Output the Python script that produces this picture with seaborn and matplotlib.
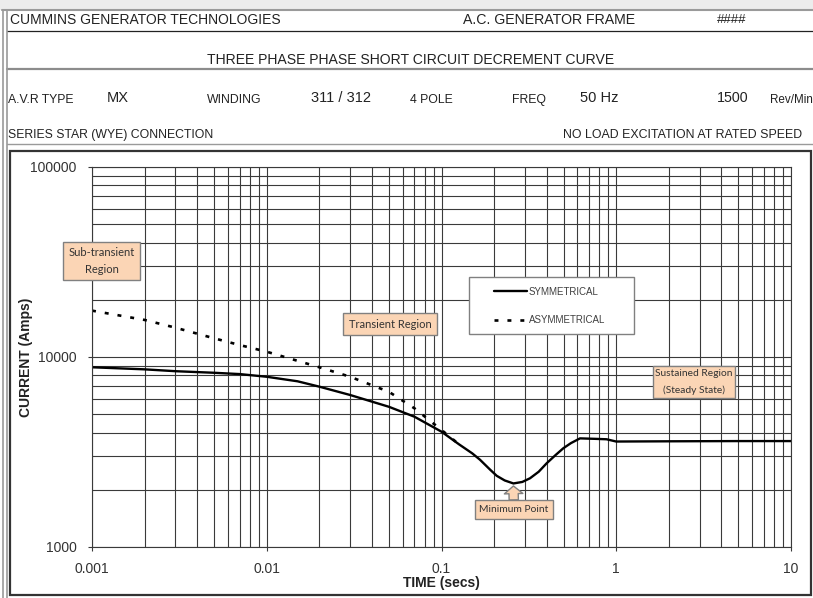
import numpy as np
import pandas as pd
import seaborn as sns
import matplotlib.pyplot as plt
from matplotlib.lines import Line2D
from matplotlib.patches import Rectangle
from matplotlib.ticker import LogLocator, FixedLocator, NullFormatter

# datos (tiempo en s, corriente en A)
sym_time = [0.001, 0.002, 0.003, 0.005, 0.007, 0.01, 0.015, 0.02, 0.03, 0.05, 0.07, 0.1,
            0.126, 0.15, 0.166, 0.19, 0.207, 0.23, 0.258, 0.29, 0.321, 0.36, 0.40, 0.45,
            0.498, 0.55, 0.62, 0.75, 0.88, 1.0, 2.0, 5.0, 10.0]
sym_current = [8830, 8610, 8420, 8260, 8130, 7870, 7450, 6980, 6310, 5470, 4850, 4045,
               3470, 3110, 2880, 2550, 2370, 2240, 2160, 2200, 2300, 2490, 2760, 3050,
               3310, 3520, 3730, 3710, 3690, 3590, 3600, 3610, 3610]

asym_time = [0.001, 0.002, 0.003, 0.005, 0.007, 0.01, 0.02, 0.03, 0.05, 0.07, 0.1, 0.126]
asym_current = [17540, 15670, 14270, 12540, 11560, 10660, 8830, 7870, 6560, 5370, 4130, 3470]

x_ticks = [0.001, 0.01, 0.1, 1, 10]
x_labels = ['0.001', '0.01', '0.1', '1', '10']
y_ticks = [1000, 10000, 100000]
y_labels = ['1000', '10000', '100000']

df_sym = pd.DataFrame({'t': sym_time, 'I': sym_current})
df_asym = pd.DataFrame({'t': asym_time, 'I': asym_current})

sns.set_style("white")
plt.rcParams['font.family'] = ['Liberation Sans', 'DejaVu Sans']

W, H = 813, 598
fig = plt.figure(figsize=(W / 100, H / 100), dpi=100)


def fx(x):
    return x / W


def fy(y):
    return 1 - y / H


def hline(y, x0, x1, color, lw):
    fig.add_artist(Line2D([fx(x0), fx(x1)], [fy(y), fy(y)], transform=fig.transFigure, color=color, lw=lw))


def vline(x, y0, y1, color, lw):
    fig.add_artist(Line2D([fx(x), fx(x)], [fy(y0), fy(y1)], transform=fig.transFigure, color=color, lw=lw))


# cabecera tipo hoja de calculo
fig.add_artist(Rectangle((0, fy(10)), 1, 10 / H, transform=fig.transFigure, fc='#ececec', ec='none'))
hline(10, 2, 813, '#9a9a9a', 1.5)
hline(31, 7, 813, '#222222', 0.9)
hline(69, 7, 813, '#8c8c8c', 1.6)
hline(144, 7, 813, '#9a9a9a', 1.0)
vline(3, 10, 598, '#9a9a9a', 1.2)
vline(7, 10, 598, '#9a9a9a', 1.2)
fig.add_artist(Rectangle((fx(10), fy(595)), 801 / W, 444 / H, transform=fig.transFigure,
                         fc='none', ec='#333333', lw=1.6))

hdr = dict(transform=fig.transFigure, va='center', ha='left', color='#222222')
fig.text(fx(10), fy(20), 'CUMMINS GENERATOR TECHNOLOGIES', fontsize=10, **hdr)
fig.text(fx(463), fy(20), 'A.C. GENERATOR FRAME', fontsize=10.2, **hdr)
fig.text(fx(717), fy(20), '####', fontsize=9.5, **hdr)
fig.text(fx(411), fy(60), 'THREE PHASE PHASE SHORT CIRCUIT DECREMENT CURVE', fontsize=10.1,
         transform=fig.transFigure, va='center', ha='center', color='#222222')
fig.text(fx(8), fy(100), 'A.V.R TYPE', fontsize=8.8, **hdr)
fig.text(fx(107), fy(98), 'MX', fontsize=10.5, **hdr)
fig.text(fx(207), fy(100), 'WINDING', fontsize=8.8, **hdr)
fig.text(fx(311), fy(98), '311 / 312', fontsize=10.5, **hdr)
fig.text(fx(410), fy(100), '4 POLE', fontsize=8.8, **hdr)
fig.text(fx(512), fy(100), 'FREQ', fontsize=8.8, **hdr)
fig.text(fx(580), fy(98), '50 Hz', fontsize=10.5, **hdr)
fig.text(fx(717), fy(98), '1500', fontsize=10.3, **hdr)
fig.text(fx(770), fy(100), 'Rev/Min', fontsize=8.4, **hdr)
fig.text(fx(8), fy(135), 'SERIES STAR (WYE) CONNECTION', fontsize=8.8, **hdr)
fig.text(fx(563), fy(135), 'NO LOAD EXCITATION AT RATED SPEED', fontsize=8.9, **hdr)

# grafico
ax = fig.add_axes([fx(92), fy(547), 699 / W, 380 / H])
ax.set_xscale('log')
ax.set_yscale('log')

sns.lineplot(data=df_sym, x='t', y='I', ax=ax, color='black', lw=1.7, label='SYMMETRICAL', sort=False)
sns.lineplot(data=df_asym, x='t', y='I', ax=ax, color='black', lw=1.9, label='ASYMMETRICAL',
             sort=False, linestyle=(0, (1.5, 3.4)))

ax.set_xlim(0.001, 10)
ax.set_ylim(1000, 100000)
ax.xaxis.set_major_locator(FixedLocator(x_ticks))
ax.yaxis.set_major_locator(FixedLocator(y_ticks))
ax.set_xticklabels(x_labels)
ax.set_yticklabels(y_labels)
ax.xaxis.set_minor_locator(LogLocator(base=10, subs=range(2, 10), numticks=20))
ax.yaxis.set_minor_locator(LogLocator(base=10, subs=range(2, 10), numticks=20))
ax.xaxis.set_minor_formatter(NullFormatter())
ax.yaxis.set_minor_formatter(NullFormatter())
ax.grid(True, which='both', color='#3a3a3a', lw=0.8)
ax.set_axisbelow(True)
for sp in ax.spines.values():
    sp.set_color('#3a3a3a')
    sp.set_linewidth(0.8)
ax.tick_params(which='major', length=3, width=0.8, color='#3a3a3a', labelsize=10,
               labelcolor='#333333', pad=8, bottom=True, left=True)
ax.tick_params(which='minor', length=0)

ax.set_xlabel('TIME (secs)', fontsize=10, fontweight='bold', color='#222222')
ax.set_ylabel('CURRENT (Amps)', fontsize=10, fontweight='bold', color='#222222')
ax.xaxis.set_label_coords(0.5, -0.076)
ax.yaxis.set_label_coords(-0.085, 0.5)

# leyenda con caja propia
ax.add_patch(Rectangle((0.5393, 0.5605), 0.2361, 0.15, transform=ax.transAxes, fc='white',
                       ec='#808080', lw=1.0, zorder=4))
leg = ax.legend(loc='center', bbox_to_anchor=(0.6545, 0.6342), fontsize=7, frameon=False,
                handlelength=3.4, handletextpad=0.2, labelspacing=1.9)
leg.set_zorder(5)
for t in leg.get_texts():
    t.set_color('#404040')

# cuadros de regiones
peach = '#fbd5b5'
box = dict(boxstyle='square,pad=0.5', fc=peach, ec='#808080', lw=1.0)
note = dict(transform=ax.transAxes, ha='center', va='center', family='Lato',
            color='#333333', zorder=6, clip_on=False)
ax.text(0.0136, 0.7526, 'Sub-transient\nRegion', bbox=box, fontsize=8, linespacing=1.6, **note)
ax.text(0.4263, 0.5868, 'Transient Region', bbox=box, fontsize=8, **note)
ax.text(0.8612, 0.4342, 'Sustained Region\n(Steady State)', fontsize=7.4, linespacing=2.0,
        bbox=dict(boxstyle='square,pad=0.25', fc=peach, ec='#808080', lw=1.0), **note)

i_min = int(np.argmin(sym_current))
ax.annotate('Minimum Point', xy=(sym_time[i_min], sym_current[i_min] * 0.97), xycoords='data',
            xytext=(0.6037, 0.0987), textcoords='axes fraction', ha='center', va='center',
            fontsize=7.4, family='Lato', color='#333333',
            bbox=dict(boxstyle='square,pad=0.45', fc=peach, ec='#808080', lw=1.0), zorder=6,
            arrowprops=dict(arrowstyle='simple,head_length=0.75,head_width=1.8,tail_width=0.9',
                            fc=peach, ec='#808080', lw=1.0, shrinkA=0, shrinkB=0))

plt.savefig('out.png', dpi=100)
